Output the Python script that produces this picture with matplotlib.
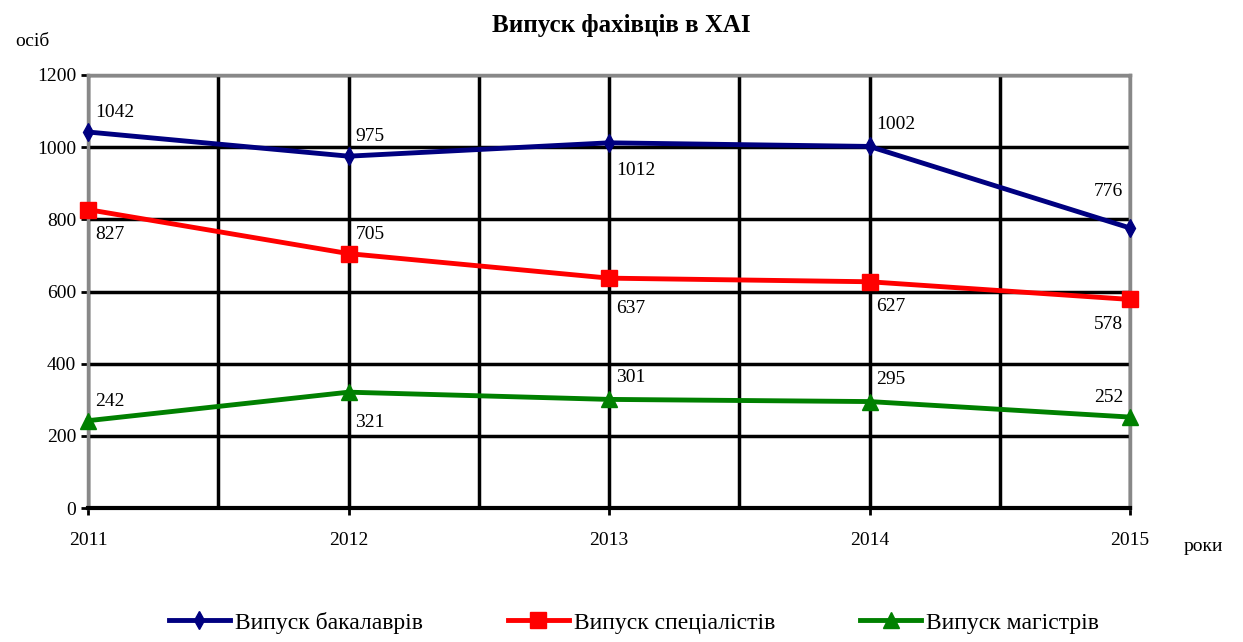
import matplotlib.pyplot as plt
import numpy as np

# Дані
years = [2011, 2012, 2013, 2014, 2015]
bachelors = [1042, 975, 1012, 1002, 776]
specialists = [827, 705, 637, 627, 578]
masters = [242, 321, 301, 295, 252]
names = ['Випуск бакалаврів', 'Випуск спеціалістів', 'Випуск магістрів']

plt.rcParams['font.family'] = ['Liberation Serif', 'DejaVu Serif']

fig = plt.figure(figsize=(12.43, 6.42), dpi=100)
ax = fig.add_axes([0.0708, 0.2087, 0.8383, 0.6745])

series = [
    (bachelors, '#000080', 'd', 9),
    (specialists, '#FF0000', 's', 11),
    (masters, '#008000', '^', 11),
]
for (vals, color, marker, ms), name in zip(series, names):
    ax.plot(years, vals, color=color, lw=3.5, marker=marker, ms=ms,
            label=name, zorder=3, clip_on=False)

# Підписи значень (зміщення в пікселях)
offs_b = [(5, 14), (5, 14), (5, -20), (5, 16), (-5, 26)]
offs_s = [(5, -18), (5, 14), (5, -22), (5, -18), (-5, -18)]
offs_m = [(5, 14), (5, -22), (5, 16), (5, 16), (-5, 14)]
for vals, offs in [(bachelors, offs_b), (specialists, offs_s), (masters, offs_m)]:
    for x, v, (dx, dy) in zip(years, vals, offs):
        ax.annotate(str(v), (x, v), xytext=(dx, dy), textcoords='offset points',
                    ha='left' if dx > 0 else 'right', va='center', fontsize=14)

ax.set_xlim(2011, 2015)
ax.set_ylim(0, 1200)
ax.set_yticks(np.arange(0, 1201, 200))
ax.set_xticks(years)
ax.set_xticks(np.arange(2011.5, 2015, 1), minor=True)
ax.grid(True, which='both', color='black', lw=2.5, zorder=1)
ax.tick_params(axis='both', labelsize=14, length=5, width=2)
ax.tick_params(axis='x', which='minor', length=0)
ax.tick_params(axis='x', pad=12)

for s in ['left', 'right', 'top']:
    ax.spines[s].set_color('#888888')
    ax.spines[s].set_linewidth(2.5)
ax.spines['bottom'].set_color('black')
ax.spines['bottom'].set_linewidth(3)

fig.text(0.5, 0.96, 'Випуск фахівців в ХАІ', ha='center', va='center',
         fontsize=18, fontweight='bold')
fig.text(0.012, 0.935, 'осіб', ha='left', va='center', fontsize=14)
fig.text(0.952, 0.148, 'роки', ha='left', va='center', fontsize=14)

fig.legend(loc='lower center', bbox_to_anchor=(0.51, -0.02), ncol=3, frameon=False,
           fontsize=17, handlelength=2.6, handletextpad=0.2, columnspacing=3.6)

fig.savefig('out.png', dpi=100)
